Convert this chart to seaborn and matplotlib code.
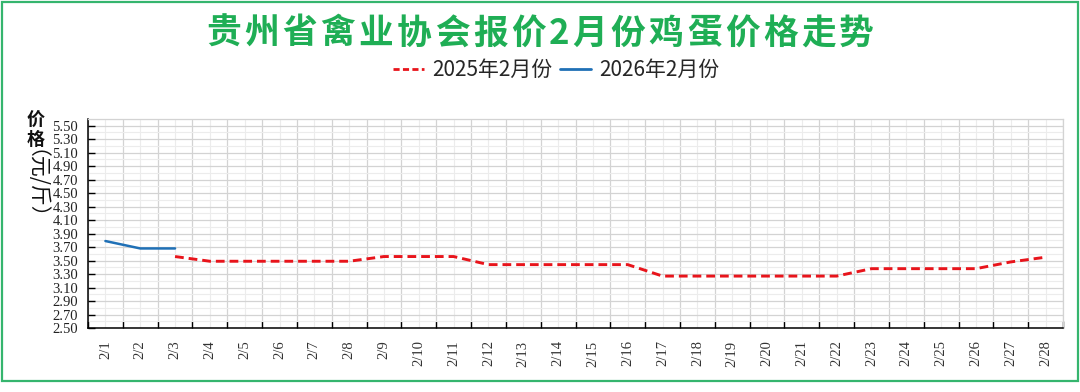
import numpy as np
import pandas as pd
import matplotlib
matplotlib.use("Agg")
import matplotlib.pyplot as plt
import seaborn as sns
from matplotlib.lines import Line2D
from matplotlib.patches import Rectangle
from matplotlib.ticker import FixedLocator, NullFormatter
from matplotlib.font_manager import FontProperties

# ---------------- data ----------------
dates = ["2/1", "2/2", "2/3", "2/4", "2/5", "2/6", "2/7", "2/8", "2/9", "2/10",
         "2/11", "2/12", "2/13", "2/14", "2/15", "2/16", "2/17", "2/18", "2/19",
         "2/20", "2/21", "2/22", "2/23", "2/24", "2/25", "2/26", "2/27", "2/28"]
price_2025 = [np.nan, np.nan, 3.56, 3.49, 3.49, 3.49, 3.49, 3.49, 3.56, 3.56,
              3.56, 3.44, 3.44, 3.44, 3.44, 3.44, 3.27, 3.27, 3.27, 3.27,
              3.27, 3.27, 3.38, 3.38, 3.38, 3.38, 3.48, 3.55]
dates_2026 = ["2/1", "2/2", "2/3"]
price_2026 = [3.79, 3.68, 3.68]
y_ticks = [2.50, 2.70, 2.90, 3.10, 3.30, 3.50, 3.70, 3.90, 4.10, 4.30,
           4.50, 4.70, 4.90, 5.10, 5.30, 5.50]
title = "贵州省禽业协会报价2月份鸡蛋价格走势"
series_names = ["2025年2月份", "2026年2月份"]
ylabel_top = "价\n格"
ylabel_unit = "（元/斤）"

# ---------------- style ----------------
sns.set_theme(style="white")
plt.rcParams["font.family"] = ["Noto Sans CJK SC", "DejaVu Sans"]
plt.rcParams["axes.unicode_minus"] = False

RED = "#e8141b"
BLUE = "#1f70b6"
GREEN = "#1fae55"
BORDER = "#35b56e"
SERIF = ["Liberation Serif", "DejaVu Serif"]

W, H = 1080, 392
fig = plt.figure(figsize=(W / 100, H / 100), dpi=100)
ax = fig.add_axes([88 / W, 1 - 328 / H, (1063 - 88) / W, (328 - 119) / H])

pos = {d: i for i, d in enumerate(dates)}
df25 = pd.DataFrame({"x": [pos[d] for d in dates], "price": price_2025}).dropna()
df26 = pd.DataFrame({"x": [pos[d] for d in dates_2026], "price": price_2026})

sns.lineplot(data=df25, x="x", y="price", ax=ax, color=RED, linewidth=2.1,
             linestyle=(0, (3.0, 1.7)), zorder=3)
sns.lineplot(data=df26, x="x", y="price", ax=ax, color=BLUE, linewidth=1.8,
             zorder=3)

# x axis: ticks at boundaries, labels at centres
ax.set_xlim(-0.5, len(dates) - 0.5)
ax.xaxis.set_major_locator(FixedLocator(np.arange(-0.5, len(dates), 1.0)))
ax.xaxis.set_major_formatter(NullFormatter())
ax.set_xticks(np.arange(len(dates)), labels=dates, minor=True)
ax.tick_params(axis="x", which="major", direction="in", length=5, width=1,
               color="black", bottom=True)
ax.tick_params(axis="x", which="minor", length=0, pad=9, labelrotation=90,
               labelsize=10.5, labelcolor="#333333", bottom=True)
for lab in ax.get_xticklabels(minor=True):
    lab.set_family(SERIF)

# y axis
ax.set_ylim(2.5, 5.6)
ax.set_yticks(y_ticks, labels=[f"{v:.2f}" for v in y_ticks])
ax.yaxis.set_minor_locator(FixedLocator([v + 0.1 for v in y_ticks]))
ax.tick_params(axis="y", which="major", direction="in", length=5, width=1,
               color="black", left=True, labelsize=10.5, labelcolor="#222222",
               pad=7)
ax.tick_params(axis="y", which="minor", length=0, left=False)
for lab in ax.get_yticklabels():
    lab.set_family(SERIF)

ax.set_xlabel("")
ax.set_ylabel("")

# grid
ax.grid(which="major", color="#d3d3d3", linewidth=0.9)
ax.grid(which="minor", color="#ececec", linewidth=0.8)
ax.set_axisbelow(True)

for side in ["left", "bottom"]:
    ax.spines[side].set_color("black")
    ax.spines[side].set_linewidth(1.1)
for side in ["top", "right"]:
    ax.spines[side].set_color("#d3d3d3")
    ax.spines[side].set_linewidth(0.9)

# y label (stacked)
fig.text(36 / W, 1 - 111 / H, ylabel_top, ha="center", va="top", fontsize=13,
         fontweight="bold", linespacing=1.0, color="#111111")
fig.text(25 / W, 1 - 149 / H, ylabel_unit, ha="left", va="center", fontsize=15,
         rotation=270, rotation_mode="anchor", color="#111111")

# legend
handles = [Line2D([], [], color=RED, linewidth=2.0, linestyle=(0, (2.2, 1.2))),
           Line2D([], [], color=BLUE, linewidth=2.0)]
fig.legend(handles, series_names, loc="center", ncol=2, frameon=False,
           bbox_to_anchor=(556 / W, 1 - 70 / H), handlelength=1.5,
           handletextpad=0.35, columnspacing=0.4,
           prop=FontProperties(family="Noto Sans CJK SC", size=15))

# title with letter spacing
renderer = fig.canvas.get_renderer()
ty = 1 - 33 / H
txts = [fig.text(0, ty, ch, fontsize=25, fontweight="bold", color=GREEN,
                 ha="left", va="center") for ch in title]
widths = [t.get_window_extent(renderer).width for t in txts]
gap = 3.3
total = sum(widths) + gap * (len(widths) - 1)
x = 540 - total / 2
for t, w in zip(txts, widths):
    t.set_x(x / W)
    x += w + gap

# outer green border
fig.add_artist(Rectangle((1.5 / W, 11 / H), 1076.5 / W, 379.5 / H,
                         transform=fig.transFigure, fill=False,
                         edgecolor=BORDER, linewidth=1.6))

fig.savefig("out.png", dpi=100)
